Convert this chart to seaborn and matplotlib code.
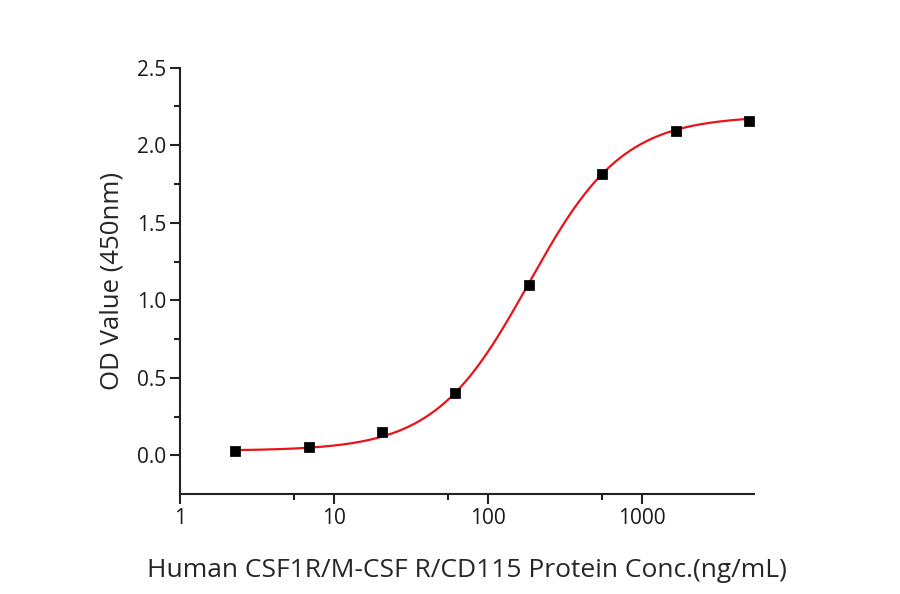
import numpy as np
import pandas as pd
import matplotlib
matplotlib.use("Agg")
import matplotlib.pyplot as plt
import seaborn as sns

# measured points (3-fold dilution series)
conc = [2.286, 6.859, 20.58, 61.73, 185.2, 555.6, 1667, 5000]
od = [0.026, 0.052, 0.148, 0.400, 1.097, 1.815, 2.090, 2.157]

# 4PL fit parameters
fit_bottom = 0.03
fit_top = 2.19
fit_ec50 = 185.0
fit_hill = 1.42

points = pd.DataFrame({"conc": conc, "od": od})
xs = np.logspace(np.log10(conc[0]), np.log10(conc[-1]), 300)
curve = pd.DataFrame({"conc": xs,
                      "od": fit_bottom + (fit_top - fit_bottom) / (1 + (fit_ec50 / xs) ** fit_hill)})

sns.set_style("ticks")
plt.rcParams["font.family"] = ["Open Sans", "DejaVu Sans"]

fig, ax = plt.subplots(figsize=(9, 5.94), dpi=100)
fig.subplots_adjust(left=0.2, right=0.838, top=0.886, bottom=0.168)

sns.lineplot(data=curve, x="conc", y="od", color="#e8131b", linewidth=1.6, ax=ax)
sns.scatterplot(data=points, x="conc", y="od", marker="s", s=45, color="black",
                edgecolor="black", zorder=3, ax=ax)

ax.set_xscale("log")
ax.set_xlim(1, 5400)
ax.set_ylim(-0.25, 2.5)
ax.set_xticks([1, 10, 100, 1000])
ax.set_xticklabels(["1", "10", "100", "1000"])
ax.set_xticks([5.5, 55, 550], minor=True)
ax.set_yticks([0.0, 0.5, 1.0, 1.5, 2.0, 2.5])
ax.set_yticklabels(["0.0", "0.5", "1.0", "1.5", "2.0", "2.5"])
ax.set_yticks([0.25, 0.75, 1.25, 1.75, 2.25], minor=True)

for side in ["top", "right"]:
    ax.spines[side].set_visible(False)
for side in ["left", "bottom"]:
    ax.spines[side].set_linewidth(1.5)
    ax.spines[side].set_color("#222222")

ax.tick_params(axis="both", which="major", length=7, width=1.5, labelsize=15,
               color="#222222", labelcolor="#1a1a1a", direction="out", pad=3)
ax.tick_params(axis="both", which="minor", length=4, width=1.5, color="#222222",
               direction="out")

ax.set_xlabel("Human CSF1R/M-CSF R/CD115 Protein Conc.(ng/mL)", fontsize=19, labelpad=21)
ax.set_ylabel("OD Value (450nm)", fontsize=18.5, labelpad=9)

fig.savefig("out.png", dpi=100)
